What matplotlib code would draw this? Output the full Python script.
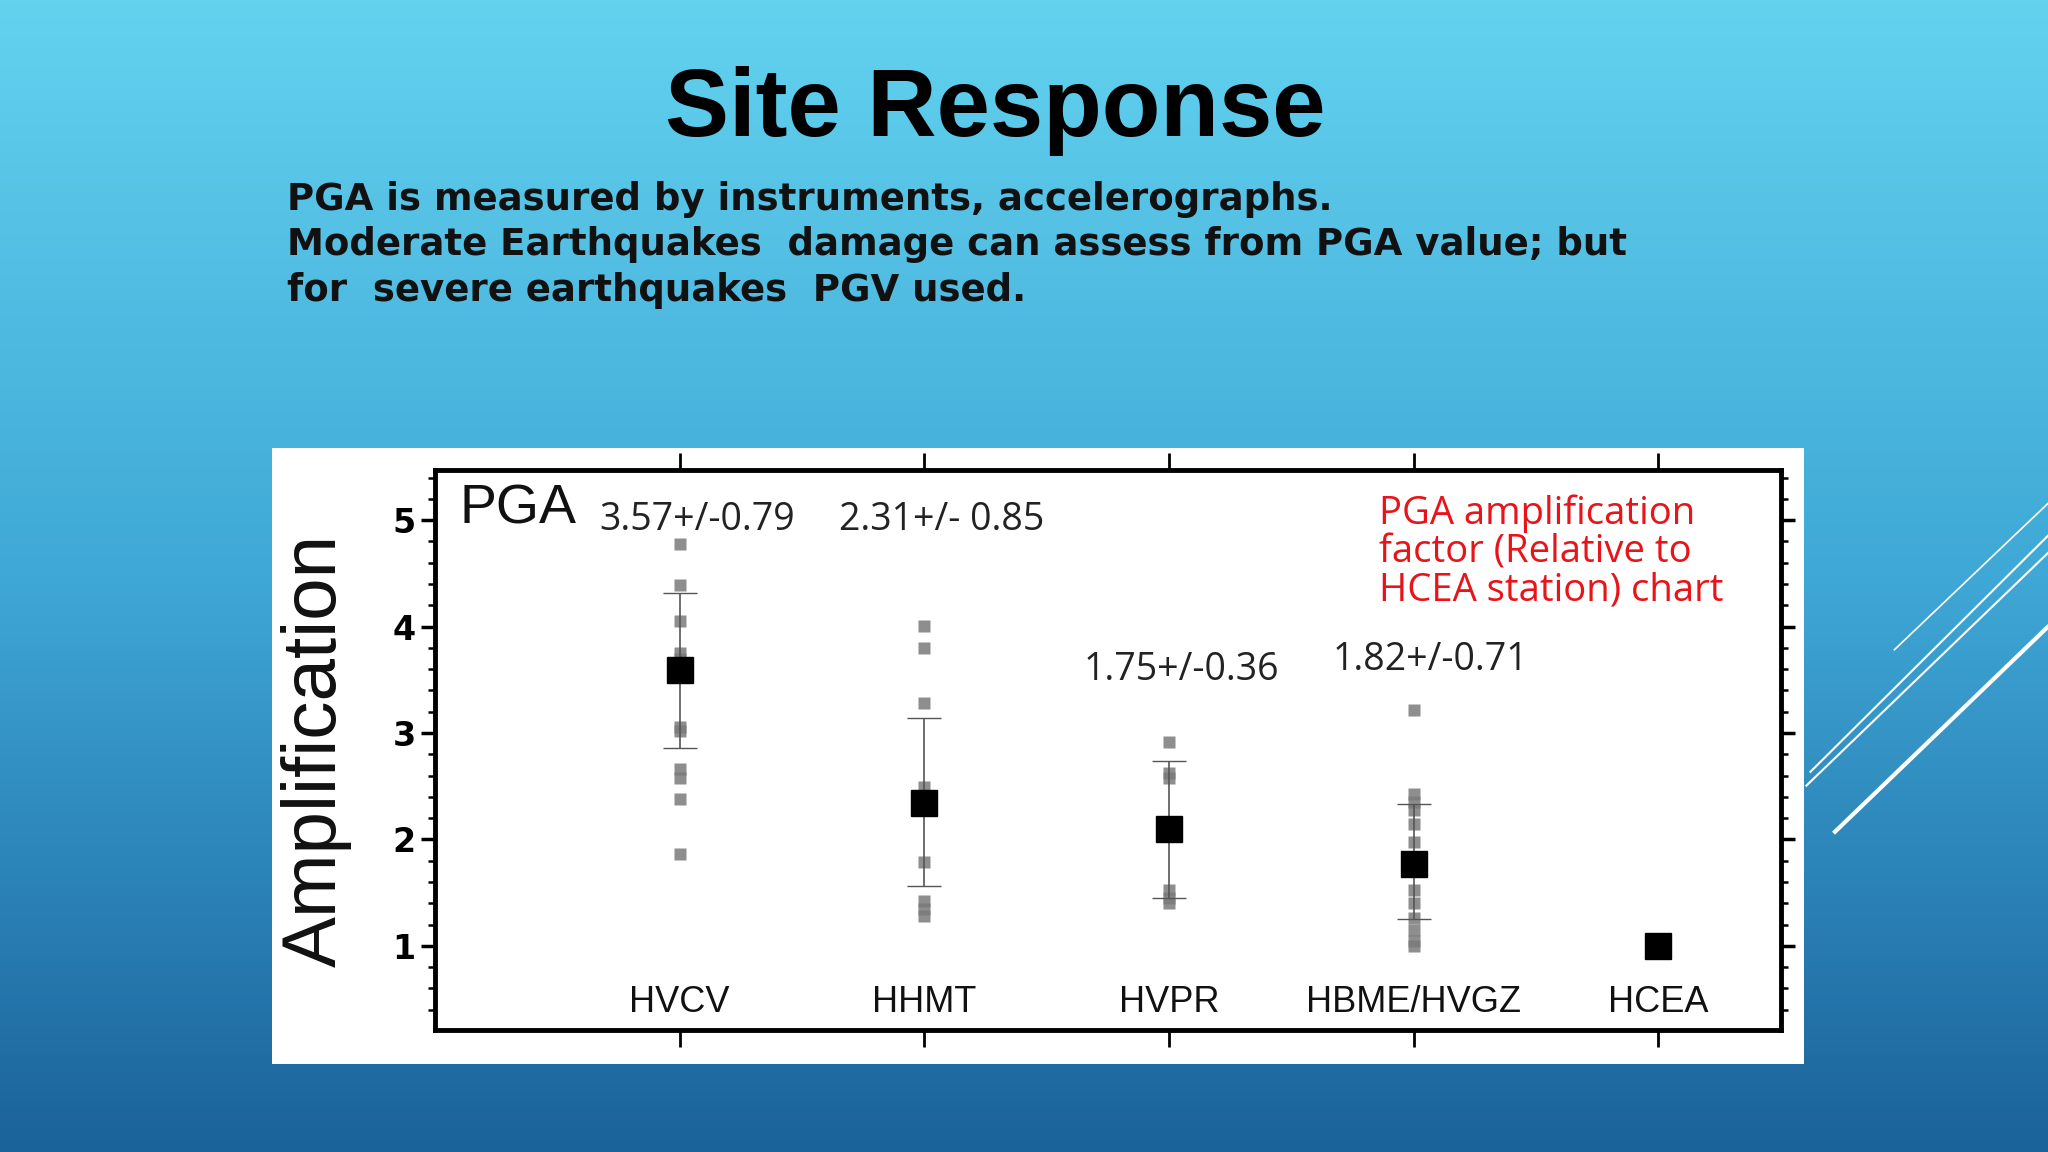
import matplotlib
matplotlib.use("Agg")
import matplotlib.pyplot as plt
import numpy as np
from matplotlib.ticker import MultipleLocator
from matplotlib.colors import LinearSegmentedColormap

stations = ["HVCV", "HHMT", "HVPR", "HBME/HVGZ", "HCEA"]
points = [
    [4.78, 4.39, 4.05, 3.75, 3.70, 3.06, 3.02, 2.66, 2.58, 2.38, 1.86],
    [4.01, 3.80, 3.28, 2.49, 1.79, 1.42, 1.35, 1.28],
    [2.92, 2.62, 2.58, 1.53, 1.45, 1.40],
    [3.22, 2.43, 2.35, 2.28, 2.15, 1.98, 1.53, 1.40, 1.26, 1.15, 1.05, 1.00],
    [],
]
means = [3.59, 2.34, 2.10, 1.77, 1.00]
err_hi = [4.32, 3.14, 2.74, 2.33, None]
err_lo = [2.86, 1.56, 1.45, 1.25, None]
labels = ["3.57+/-0.79", "2.31+/- 0.85", "1.75+/-0.36", "1.82+/-0.71"]
label_pos = [(1.07, 5.0), (2.07, 5.0), (3.05, 3.59), (4.07, 3.69)]

fig = plt.figure(figsize=(20.48, 11.52), dpi=100)
bg = fig.add_axes([0, 0, 1, 1], zorder=-10)
grad = np.linspace(0, 1, 256).reshape(-1, 1)
cmap = LinearSegmentedColormap.from_list("bg", ["#63d2ef", "#3fa8d6", "#1a629a"])
bg.imshow(grad, aspect="auto", cmap=cmap, extent=[0, 1, 0, 1], origin="upper")
bg.set_xlim(0, 1); bg.set_ylim(0, 1); bg.axis("off")
for (x0, y0, x1, y1, lw) in [(0.896, 0.278, 1.0, 0.456, 3), (0.882, 0.318, 1.0, 0.52, 1.5),
                             (0.884, 0.33, 1.0, 0.535, 1.5), (0.925, 0.436, 1.0, 0.563, 1.2)]:
    bg.plot([x0, x1], [y0, y1], color="white", lw=lw)

fig.text(0.486, 0.904, "Site Response", ha="center", va="center", fontsize=69,
         fontweight="bold", color="black", family="Liberation Sans")
sub = ["PGA is measured by instruments, accelerographs.",
       "Moderate Earthquakes  damage can assess from PGA value; but",
       "for  severe earthquakes  PGV used."]
for i, s in enumerate(sub):
    fig.text(0.14, 0.827 - i * 0.0395, s, ha="left", va="center", fontsize=26.7,
             fontweight="heavy", color="#111111")

panel = fig.add_axes([0.1328, 0.0764, 0.748, 0.535], zorder=-5)
panel.set_facecolor("white")
panel.set_xticks([]); panel.set_yticks([])
for s in panel.spines.values():
    s.set_visible(False)

ax = fig.add_axes([0.2124, 0.1059, 0.657, 0.486])
ax.set_facecolor("none")
ax.set_xlim(0, 5.5)
ax.set_ylim(0.21, 5.47)
xs = np.arange(1, 6)
for i, x in enumerate(xs):
    if points[i]:
        ax.plot([x] * len(points[i]), points[i], "s", color="#7a7a7a", ms=9, alpha=0.85, mec="none")
    if err_hi[i] is not None:
        ax.errorbar([x], [means[i]], yerr=[[means[i] - err_lo[i]], [err_hi[i] - means[i]]],
                    fmt="none", ecolor="#555555", elinewidth=1.2, capsize=12)
    ax.plot([x], [means[i]], "s", color="black", ms=19)
    ax.text(x, 0.47, stations[i], ha="center", va="center", fontsize=26,
            family="Liberation Sans", color="#111111")
for lab, (lx, ly) in zip(labels, label_pos):
    ax.text(lx, ly, lab, ha="center", va="center", fontsize=27, color="#222222", family="Open Sans")
ax.text(0.1, 5.1, "PGA", ha="left", va="center", fontsize=40, color="#111111", family="Liberation Sans")
ax.text(3.86, 4.7, "PGA amplification\nfactor (Relative to\nHCEA station) chart",
        ha="left", va="center", fontsize=27.5, color="#e8141a", linespacing=1.02, family="Open Sans")

ax.set_xticks(xs)
ax.set_xticklabels([])
ax.tick_params(axis="x", direction="out", length=12, width=2, top=True, bottom=True)
ax.yaxis.set_major_locator(MultipleLocator(1))
ax.yaxis.set_minor_locator(MultipleLocator(0.2))
ax.set_yticks([1, 2, 3, 4, 5])
ax.tick_params(axis="y", which="major", direction="out", length=10, width=2.5, right=True,
               labelsize=24, pad=4)
ax.tick_params(axis="y", which="minor", direction="out", length=5, width=1.8, right=True)
for t in ax.get_yticklabels():
    t.set_fontweight("bold")
for s in ax.spines.values():
    s.set_linewidth(3.5)
ax.set_ylabel("Amplification", fontsize=55, color="#111111", family="Liberation Sans")
ax.yaxis.set_label_coords(-0.062, 0.50)

fig.savefig("out.png", dpi=100)
